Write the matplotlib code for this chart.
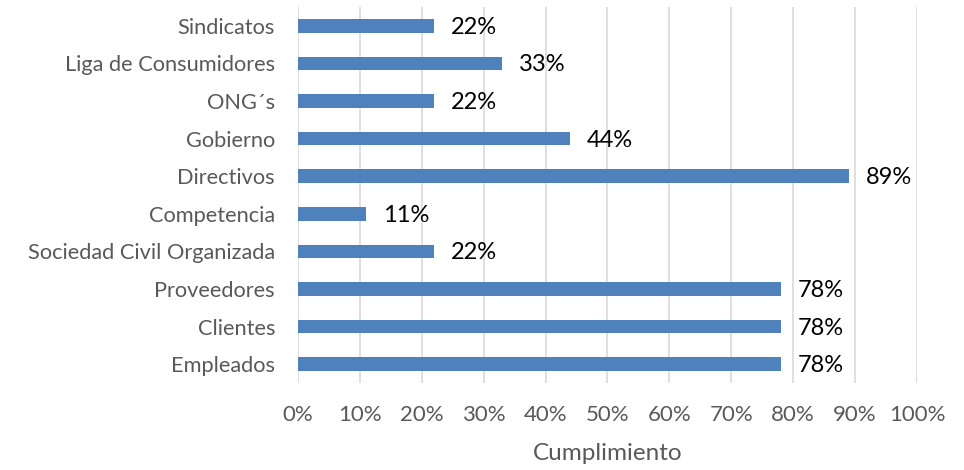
import matplotlib
matplotlib.use("Agg")
import matplotlib.pyplot as plt
from matplotlib.ticker import PercentFormatter, MultipleLocator

plt.rcParams['font.family'] = ['Lato', 'DejaVu Sans']

# categories from top to bottom, with their compliance percentages
grupos = ["Sindicatos", "Liga de Consumidores", "ONG´s", "Gobierno", "Directivos",
          "Competencia", "Sociedad Civil Organizada", "Proveedores", "Clientes", "Empleados"]
cumplimiento = [22, 33, 22, 44, 89, 11, 22, 78, 78, 78]

bar_color = "#4F81BD"
grid_color = "#D9D9D9"
text_gray = "#595959"

fig = plt.figure(figsize=(9.64, 4.70), dpi=100)
ax = fig.add_axes([0.3091, 0.1851, 0.6421, 0.80])

pos = list(range(len(grupos)))
ax.barh(pos, cumplimiento, height=0.36, color=bar_color, zorder=3)

for y, v in zip(pos, cumplimiento):
    ax.text(v + 2.7, y + 0.04, f"{v}%", va="center", ha="left", fontsize=17, color="black")

ax.set_xlim(0, 100)
ax.set_ylim(len(grupos) - 0.5, -0.5)
ax.set_yticks(pos)
ax.set_yticklabels(grupos)
ax.xaxis.set_major_locator(MultipleLocator(10))
ax.xaxis.set_major_formatter(PercentFormatter(decimals=0))

ax.grid(axis="x", color=grid_color, linewidth=1.2, zorder=0)
for s in ax.spines.values():
    s.set_visible(False)
ax.tick_params(axis="y", length=0, labelsize=15.7, colors=text_gray, pad=16.5)
ax.tick_params(axis="x", length=0, labelsize=16, colors=text_gray, pad=15.5)

ax.set_xlabel("Cumplimiento", fontsize=17.5, color=text_gray, labelpad=13)

fig.savefig("out.png", dpi=100)
